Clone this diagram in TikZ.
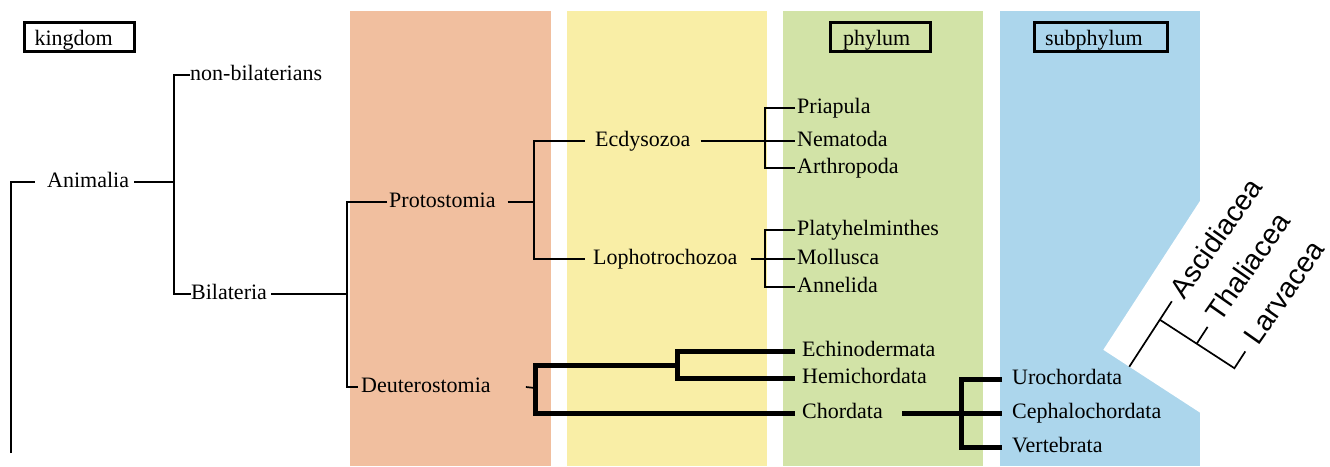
\documentclass[tikz,border=0pt]{standalone}
\usepackage{fontspec}
\setmainfont{Liberation Serif}
\newfontfamily\insetfont{Liberation Sans}
\definecolor{bandorange}{HTML}{F1BF9F}
\definecolor{bandyellow}{HTML}{F9EEA6}
\definecolor{bandgreen}{HTML}{D2E3A7}
\definecolor{bandblue}{HTML}{ACD6EC}
\begin{document}
\begin{tikzpicture}[x=1pt,y=-1pt,
  lab/.style={anchor=west, inner sep=0pt, font=\fontsize{22}{26}\selectfont, text height=15pt, text depth=4pt},
  boxlab/.style={draw, line width=2.5pt, font=\fontsize{22}{26}\selectfont, minimum height=29pt, inner ysep=0pt, text height=18pt, text depth=2pt, align=left},
  thinline/.style={line width=1.7pt},
  thickline/.style={line width=5pt},
  sanslab/.style={anchor=west, rotate=55, inner sep=0pt, font=\insetfont\fontsize{28.5}{32}\selectfont, text height=18pt, text depth=0pt},
]
\useasboundingbox (0,0) rectangle (1330,466);
\fill[white] (0,0) rectangle (1330,466);
% bands
\fill[bandorange] (350,11) rectangle (551,466);
\fill[bandyellow] (567,11) rectangle (767,466);
\fill[bandgreen] (783,11) rectangle (983,466);
\fill[bandblue] (1000,11) rectangle (1200,466);
% inset background
\fill[white] (1103.3,349.8) -- (1239.5,140.1) -- (1433.2,265.9) -- (1297,475.6) -- cycle;
% rank boxes
\node[boxlab, text width=90pt, inner xsep=10pt] (kingdom) at (79.5,37) {kingdom};
\node[boxlab, text width=75pt, inner xsep=12.5pt] (phylum) at (880.5,37) {phylum};
\node[boxlab, text width=112pt, inner xsep=10.5pt] (subphylum) at (1101,37) {subphylum};
% labels
\node[lab] (anim) at (47,182) {Animalia};
\node[lab] (nonbil) at (190,75) {non-bilaterians};
\node[lab] (bil) at (191,294) {Bilateria};
\node[lab] (proto) at (389,202) {Protostomia};
\node[lab] (deut) at (361,387) {Deuterostomia};
\node[lab] (ecd) at (595,141) {Ecdysozoa};
\node[lab] (loph) at (593,259) {Lophotrochozoa};
\node[lab] (pri) at (797,108) {Priapula};
\node[lab] (nem) at (797,141) {Nematoda};
\node[lab] (arth) at (797,168) {Arthropoda};
\node[lab] (platy) at (797,230) {Platyhelminthes};
\node[lab] (moll) at (797,259) {Mollusca};
\node[lab] (ann) at (797,287) {Annelida};
\node[lab] (ech) at (802,351) {Echinodermata};
\node[lab] (hem) at (802,378) {Hemichordata};
\node[lab] (chord) at (802,413) {Chordata};
\node[lab] (uro) at (1012,379) {Urochordata};
\node[lab] (ceph) at (1012,413) {Cephalochordata};
\node[lab] (vert) at (1012,447) {Vertebrata};
% junctions
\coordinate (rootbot) at (11,453);
\coordinate (roottick) at (35,182);
\coordinate (j1) at (174,182);
\coordinate (j2) at (347,294);
\coordinate (j3) at (534,202);
\coordinate (k1) at (765,141);
\coordinate (k2) at (765,259);
\coordinate (dj) at (535,388);
\coordinate (ej) at (677,365);
\coordinate (cj) at (961,413);
% thin connectors
\draw[thinline] (rootbot) |- (roottick);
\draw[thinline] ([xshift=5pt]anim.east) -- (j1);
\draw[thinline] (nonbil.west) -- (nonbil.west -| j1) -- (bil.west -| j1) -- (bil.west);
\draw[thinline] ([xshift=4pt]bil.east) -- (j2);
\draw[thinline] ([xshift=-2pt]proto.west) -- (proto.west -| j2) -- (deut.west -| j2) -- ([xshift=-3pt]deut.west);
\draw[thinline] ([xshift=12pt]proto.east) -- (j3);
\draw[thinline] ([xshift=-10pt]ecd.west) -- (ecd.west -| j3) -- (loph.west -| j3) -- ([xshift=-8pt]loph.west);
\draw[thinline] ([xshift=10pt]ecd.east) -- ([xshift=-2pt]nem.west);
\draw[thinline] ([xshift=-2pt]pri.west) -- (pri.west -| k1) -- (arth.west -| k1) -- ([xshift=-2pt]arth.west);
\draw[thinline] ([xshift=13pt]loph.east) -- ([xshift=-2pt]moll.west);
\draw[thinline] ([xshift=-2pt]platy.west) -- (platy.west -| k2) -- (ann.west -| k2) -- ([xshift=-2pt]ann.west);
\draw[thinline] ([xshift=35pt]deut.east) -- (dj);
% thick connectors
\draw[thickline] ([xshift=-7pt]ech.west) -| (ej) |- ([xshift=-7pt]hem.west);
\draw[thickline] (ej) -| (dj) |- ([xshift=-7pt]chord.west);
\draw[thickline] ([xshift=19pt]chord.east) -- (cj);
\draw[thickline] ([xshift=-10pt]uro.west) -| (cj) |- ([xshift=-10pt]vert.west);
\draw[thickline] (cj) -- ([xshift=-10pt]ceph.west);
% inset cladogram
\coordinate (iroot) at (1129.3,366.7);
\coordinate (itop) at (1171.8,301.3);
\coordinate (inode) at (1159.8,319.7);
\coordinate (iend) at (1234.4,368.2);
\coordinate (ilarv) at (1245.3,351.4);
\coordinate (ithb) at (1196.7,343.7);
\coordinate (itht) at (1207.6,326.9);
\draw[thinline] (iroot) -- (itop);
\draw[thinline] (inode) -- (iend) -- (ilarv);
\draw[thinline] (ithb) -- (itht);
\node[sanslab] (asc) at (1177,295) {Ascidiacea};
\node[sanslab] (thal) at (1213,318) {Thaliacea};
\node[sanslab] (larv) at (1251,341) {Larvacea};
\end{tikzpicture}
\end{document}
